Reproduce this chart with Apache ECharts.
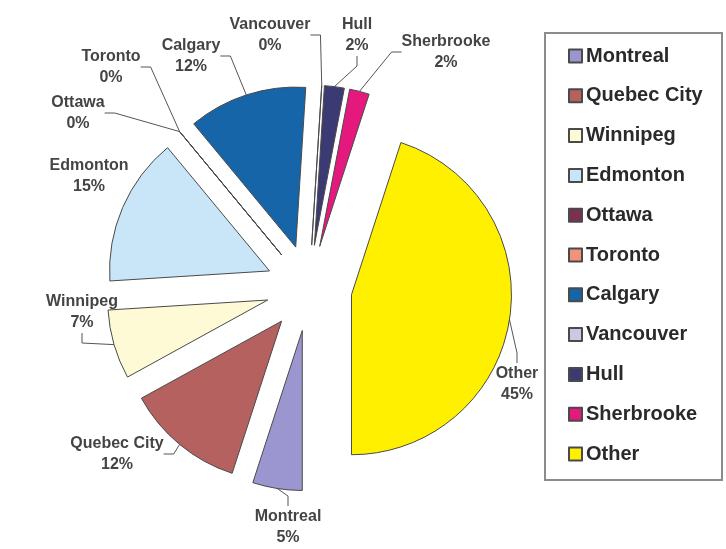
<!DOCTYPE html>
<html>
<head>
<meta charset="utf-8">
<script src="https://cdn.jsdelivr.net/npm/echarts@6/dist/echarts.min.js"></script>
<style>
html,body{margin:0;padding:0;background:#ffffff;}
#chart{width:726px;height:549px;}
</style>
</head>
<body>
<div id="chart"></div>
<script>
// ---- data ----
const categories = ['Montreal','Quebec City','Winnipeg','Edmonton','Ottawa','Toronto','Calgary','Vancouver','Hull','Sherbrooke','Other'];
const shares = [5, 12, 7, 15, 0, 0, 12, 0, 2, 2, 45];

// ---- styles / layout ----
const sliceColors = ['#9b96cf','#b5615f','#fffad6','#c8e6f8','#7c2f50','#f0937a','#1565a8','#cbc8e2','#3c3a72','#e5187e','#fff000'];
const labelCenters = [[288,527],[117,454],[82,312],[89,176],[78,113],[111,67],[191,56],[270,35],[357,35],[446,52],[517,384]];
const noGuideLine = ['Edmonton'];
const pieCenter = [309, 288];
const pieRadius = 160;
const explode = 43;

const chart = echarts.init(document.getElementById('chart'), null, {renderer:'canvas'});

const sliceData = categories.map((name, i) => ({
  name: name,
  value: shares[i],
  selected: true,
  itemStyle: { color: sliceColors[i] }
}));
const labelData = categories.map((name, i) => ({
  name: name,
  value: shares[i],
  labelLine: { show: noGuideLine.indexOf(name) < 0 }
}));

const fontFam = 'Liberation Sans, Arial, sans-serif';

chart.setOption({
  animation: false,
  backgroundColor: '#ffffff',
  color: sliceColors,
  graphic: [{
    type: 'rect',
    shape: { x: 545, y: 33, width: 177, height: 447 },
    style: { fill: 'none', stroke: '#8c8c8c', lineWidth: 2 },
    silent: true
  }],
  legend: {
    orient: 'vertical',
    left: 568,
    top: 45,
    padding: 0,
    itemGap: 17.8,
    itemWidth: 13,
    itemHeight: 13,
    icon: 'rect',
    data: categories,
    textStyle: {
      fontFamily: fontFam,
      fontSize: 20,
      fontWeight: 'bold',
      color: '#2a2a2a',
      lineHeight: 22,
      padding: [0, 0, 0, -1]
    }
  },
  series: [{
    // exploded slices
    type: 'pie',
    z: 3,
    center: pieCenter,
    radius: pieRadius,
    startAngle: -90,
    clockwise: true,
    selectedMode: 'multiple',
    selectedOffset: explode,
    minAngle: 0,
    emphasis: { scale: false, disabled: true },
    itemStyle: { borderColor: '#4a4a4a', borderWidth: 1 },
    label: { show: false },
    labelLine: { show: false },
    data: sliceData
  }, {
    // invisible guide ring carrying the data labels at the exploded outer edge
    type: 'pie',
    z: 2,
    silent: true,
    center: pieCenter,
    radius: pieRadius + explode,
    startAngle: -90,
    clockwise: true,
    minAngle: 0,
    avoidLabelOverlap: false,
    emphasis: { disabled: true },
    itemStyle: { color: 'rgba(0,0,0,0)', borderWidth: 0 },
    label: {
      show: true,
      position: 'outside',
      fontFamily: fontFam,
      fontSize: 16,
      fontWeight: 'bold',
      color: '#444444',
      lineHeight: 21,
      align: 'center',
      formatter: p => p.name + '\n' + Math.round(p.percent) + '%'
    },
    labelLine: {
      show: true,
      length: 10,
      length2: 10,
      lineStyle: { color: '#555555', width: 1 }
    },
    labelLayout: function (params) {
      const c = labelCenters[params.dataIndex];
      return { x: c[0], y: c[1], align: 'center', verticalAlign: 'middle' };
    },
    data: labelData
  }]
});
</script>
</body>
</html>
